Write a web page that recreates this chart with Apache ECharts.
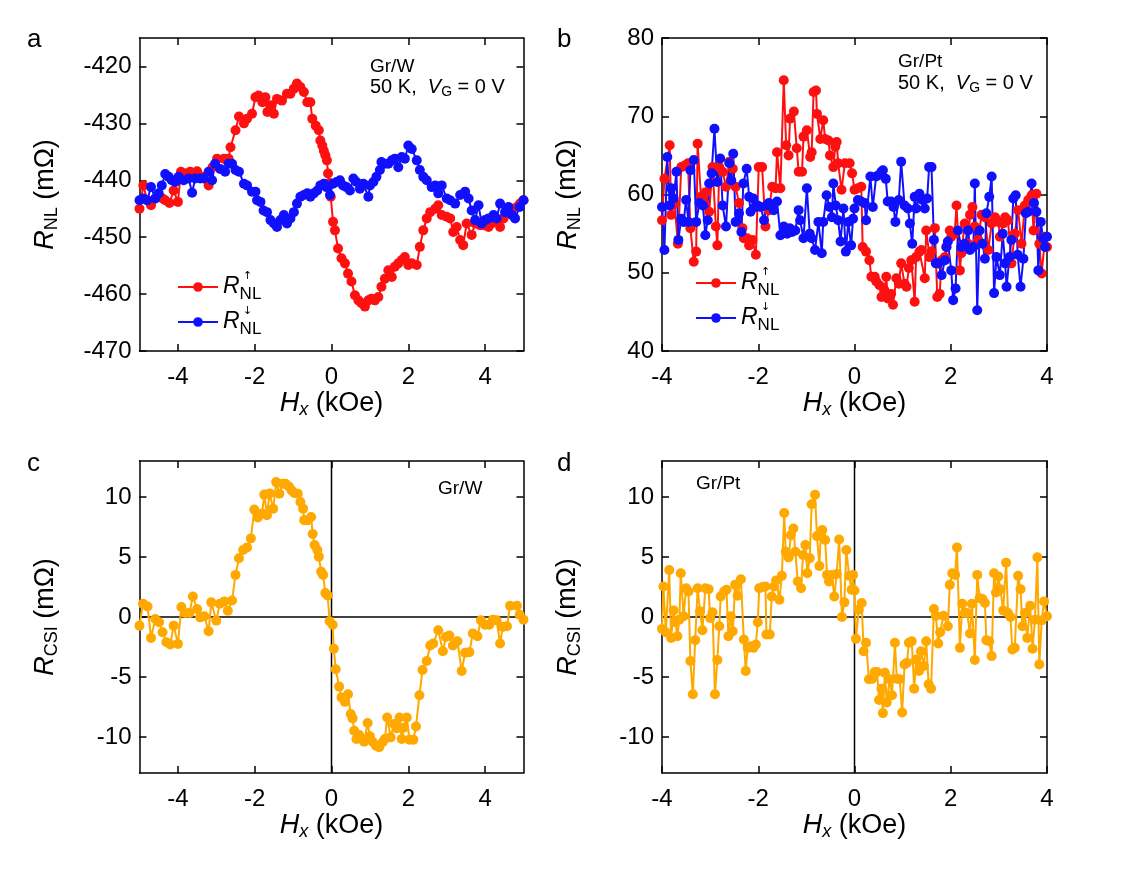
<!DOCTYPE html>
<html>
<head>
<meta charset="utf-8">
<script src="https://cdn.jsdelivr.net/npm/echarts@6/dist/echarts.min.js"></script>
<style>
  html, body { margin: 0; padding: 0; background: #fff; }
  #chart { width: 1121px; height: 874px; }
</style>
</head>
<body>
<div id="chart"></div>
<script>
// panel a: Gr/W, R_NL up / down sweeps  [Hx (kOe), R (mOhm)]
const aUp = [[-5,-445],[-4.9,-440.9],[-4.8,-443.5],[-4.7,-444.4],[-4.59,-443.2],[-4.4,-443.2],[-4.33,-443.5],[-4.22,-444],[-4.11,-441.8],[-4.0,-443.8],
  [-3.92,-438.5],[-3.81,-438.8],[-3.68,-438.5],[-3.5,-438.4],[-3.37,-439.4],[-3.2,-440.9],[-3.1,-437.7],[-2.98,-436.2],[-2.8,-436.2],[-2.68,-436.2],
  [-2.63,-434.2],[-2.5,-431.2],[-2.41,-428.8],[-2.28,-430],[-2.2,-429.2],[-2.07,-428.3],[-1.98,-425.4],[-1.9,-425.1],[-1.8,-426.3],[-1.72,-425.4],
  [-1.67,-428],[-1.59,-426.8],[-1.5,-428.3],[-1.42,-425.7],[-1.29,-426],[-1.16,-424.8],[-1.07,-424.8],[-0.98,-423.9],[-0.9,-423],[-0.81,-423.6],
  [-0.72,-424.5],[-0.63,-426.3],[-0.55,-426.3],[-0.5,-429.2],[-0.41,-430.4],[-0.33,-431.2],[-0.29,-433],[-0.24,-433.9],[-0.2,-434.8],[-0.16,-435.6],
  [-0.12,-436.5],[-0.09,-438.8],[-0.05,-440.5],[-0.02,-442.9],[0.04,-447.3],[0.09,-448.8],[0.17,-452],[0.26,-453.7],[0.35,-454.6],[0.43,-456.4],
  [0.52,-457.8],[0.61,-460.2],[0.7,-461.1],[0.78,-461.6],[0.87,-462.2],[0.96,-461.1],[1.04,-460.8],[1.13,-461.1],[1.22,-460.5],[1.3,-458.7],
  [1.39,-457.3],[1.48,-455.8],[1.57,-457],[1.65,-455.2],[1.74,-454.6],[1.83,-454],[1.91,-453.5],[2.0,-454.9],[2.09,-454.6],[2.22,-454.9],
  [2.3,-451.7],[2.39,-448.8],[2.48,-446.7],[2.57,-445.6],[2.7,-445],[2.78,-444.4],[2.87,-446.1],[3.0,-446.4],[3.09,-446.7],[3.17,-449.1],
  [3.26,-448.2],[3.35,-450.5],[3.43,-451.4],[3.52,-447.6],[3.65,-449.6],[3.74,-447.6],[3.87,-447.9],[3.96,-447.9],[4.09,-448.2],[4.17,-447.6],
  [4.26,-447],[4.39,-448.2],[4.48,-446.7],[4.57,-445.6],[4.7,-445],[4.83,-444.7],[4.91,-444.1],[5.0,-443.5]]
const aDown = [[-5,-443.5],[-4.9,-443.2],[-4.8,-443.5],[-4.7,-441.2],[-4.59,-443.2],[-4.5,-442.3],[-4.42,-440.9],[-4.33,-438.9],[-4.24,-439.4],[-4.16,-440],
  [-4.07,-440.3],[-3.98,-439.4],[-3.85,-440],[-3.72,-439.7],[-3.63,-442.2],[-3.55,-439.7],[-3.42,-439.7],[-3.33,-439.7],[-3.2,-438.5],[-3.11,-440],
  [-3.03,-437.1],[-2.9,-438],[-2.77,-438.5],[-2.68,-437.1],[-2.59,-437.1],[-2.5,-438.2],[-2.41,-438.5],[-2.28,-440.6],[-2.2,-440.9],[-2.07,-442],
  [-1.98,-442],[-1.94,-443.5],[-1.85,-443.8],[-1.77,-445.3],[-1.68,-445.6],[-1.59,-447],[-1.5,-447.6],[-1.42,-448.2],[-1.33,-447],[-1.24,-446.1],
  [-1.16,-447.6],[-1.07,-446.7],[-0.98,-445.6],[-0.9,-444.1],[-0.81,-442.9],[-0.72,-442.6],[-0.63,-442.3],[-0.55,-442.9],[-0.46,-442.3],[-0.37,-441.8],
  [-0.29,-440.9],[-0.2,-440.6],[-0.13,-441.2],[-0.04,-442.6],[0.04,-440.6],[0.13,-440.3],[0.22,-440],[0.3,-440.9],[0.39,-441.2],[0.48,-441.8],
  [0.57,-439.7],[0.65,-440.3],[0.74,-441.5],[0.83,-440.6],[0.96,-442.9],[1.0,-440.9],[1.09,-440.3],[1.17,-439.4],[1.26,-438.2],[1.3,-436.8],
  [1.39,-437.1],[1.48,-437.1],[1.57,-436.5],[1.65,-436.2],[1.74,-437.7],[1.83,-435.9],[1.91,-436.2],[2.0,-433.9],[2.09,-434.5],[2.22,-436.5],
  [2.3,-438.2],[2.39,-439.4],[2.48,-440],[2.61,-441.2],[2.7,-440.9],[2.78,-442.3],[2.87,-440.9],[3.0,-443.2],[3.09,-443.5],[3.22,-444.1],
  [3.35,-442.6],[3.48,-442],[3.57,-443.2],[3.65,-445.3],[3.74,-447],[3.83,-444.4],[3.91,-447.6],[4.0,-447],[4.09,-446.7],[4.22,-446.1],
  [4.3,-446.7],[4.39,-444.1],[4.52,-445.6],[4.61,-444.7],[4.7,-446.1],[4.78,-446.7],[4.9,-444.7],[5.0,-443.5]]

// panel b: Gr/Pt
const bUp = [[-4.0,56.7],[-3.95,62.0],[-3.84,66.3],[-3.81,57.4],[-3.74,58.9],[-3.67,53.7],[-3.6,63.5],[-3.53,63.7],[-3.46,64.0],[-3.41,55.7],
  [-3.34,51.4],[-3.29,52.7],[-3.26,66.5],[-3.19,59.7],[-3.12,58.9],[-3.09,60.3],[-3.02,57.8],[-2.95,63.5],[-2.88,55.9],[-2.85,53.5],
  [-2.81,63.5],[-2.74,62.9],[-2.67,61.0],[-2.6,64.2],[-2.53,63.3],[-2.47,61.0],[-2.4,58.9],[-2.33,55.7],[-2.3,54.4],[-2.23,54.4],
  [-2.19,53.5],[-2.12,54.2],[-2.05,52.3],[-1.99,63.5],[-1.92,63.5],[-1.85,55.9],[-1.78,58.0],[-1.71,61.0],[-1.64,60.8],[-1.61,65.4],
  [-1.54,60.8],[-1.47,74.6],[-1.42,66.3],[-1.37,65.0],[-1.34,69.7],[-1.26,70.6],[-1.2,65.9],[-1.16,62.9],[-1.09,62.9],[-1.06,67.4],
  [-0.99,68.2],[-0.92,64.8],[-0.89,65.4],[-0.85,73.1],[-0.8,73.3],[-0.78,70.3],[-0.71,67.1],[-0.65,69.5],[-0.61,67.1],[-0.54,66.9],
  [-0.51,65.0],[-0.44,63.5],[-0.4,66.1],[-0.37,66.7],[-0.34,64.0],[-0.27,60.6],[-0.2,64.0],[-0.1,64.0],[-0.05,62.7],[0.0,60.6],
  [0.07,60.8],[0.14,61.0],[0.17,53.3],[0.24,52.7],[0.31,51.6],[0.35,49.5],[0.42,49.5],[0.45,48.9],[0.52,48.4],[0.56,46.9],
  [0.62,47.8],[0.66,49.5],[0.69,46.7],[0.76,47.3],[0.8,45.9],[0.87,49.3],[0.92,48.6],[0.97,51.2],[1.04,48.6],[1.08,48.2],
  [1.13,50.6],[1.18,51.6],[1.25,46.3],[1.28,52.0],[1.35,52.7],[1.39,52.9],[1.46,49.3],[1.49,55.4],[1.56,52.0],[1.6,52.7],
  [1.67,55.7],[1.72,46.9],[1.77,47.3],[1.81,51.6],[1.88,52.0],[1.91,53.3],[1.98,55.4],[2.01,54.6],[2.08,55.0],[2.12,58.6],
  [2.19,50.3],[2.22,52.5],[2.29,56.3],[2.36,53.7],[2.4,57.4],[2.45,58.4],[2.5,55.9],[2.57,54.2],[2.64,57.4],[2.71,57.1],
  [2.78,52.9],[2.85,56.3],[2.92,57.1],[2.99,56.5],[3.02,54.6],[3.09,56.3],[3.13,57.1],[3.19,56.7],[3.26,51.2],[3.33,55.0],
  [3.4,58.0],[3.47,53.7],[3.54,58.6],[3.61,59.3],[3.68,59.9],[3.72,55.4],[3.78,60.1],[3.84,53.7],[3.89,49.9],[3.96,54.6],[4.0,53.3]]
const bDown = [[-4.0,58.4],[-3.95,52.9],[-3.89,64.8],[-3.84,58.6],[-3.81,60.8],[-3.76,59.5],[-3.7,62.9],[-3.66,54.2],[-3.6,56.9],[-3.55,56.5],
  [-3.5,59.3],[-3.45,56.5],[-3.41,63.1],[-3.34,64.4],[-3.29,56.5],[-3.22,58.9],[-3.15,58.6],[-3.1,54.8],[-3.05,56.7],[-3.02,61.4],
  [-2.97,62.7],[-2.91,68.4],[-2.85,61.6],[-2.79,64.6],[-2.74,58.6],[-2.67,55.9],[-2.6,64.0],[-2.56,61.8],[-2.52,65.2],[-2.47,56.5],
  [-2.4,57.6],[-2.35,55.2],[-2.31,61.4],[-2.24,63.3],[-2.19,59.7],[-2.16,57.8],[-2.1,59.5],[-2.05,58.4],[-2.01,58.6],[-1.95,58.4],
  [-1.88,56.7],[-1.83,58.6],[-1.78,58.9],[-1.73,58.6],[-1.68,58.0],[-1.61,59.1],[-1.54,54.8],[-1.47,55.9],[-1.4,55.0],[-1.35,55.7],
  [-1.3,55.2],[-1.23,55.4],[-1.16,58.0],[-1.13,56.7],[-1.06,54.4],[-0.99,60.8],[-0.93,55.0],[-0.89,54.4],[-0.82,52.9],[-0.75,56.5],
  [-0.68,52.5],[-0.65,56.5],[-0.58,59.9],[-0.52,58.4],[-0.47,57.1],[-0.44,61.4],[-0.39,58.6],[-0.34,56.7],[-0.29,54.0],[-0.23,58.2],
  [-0.18,52.7],[-0.13,56.5],[-0.07,53.5],[-0.03,56.9],[0.0,58.2],[0.07,59.3],[0.14,59.1],[0.21,58.9],[0.24,56.7],[0.33,62.3],
  [0.38,58.4],[0.45,62.3],[0.51,62.5],[0.56,62.9],[0.59,63.1],[0.65,62.0],[0.69,59.1],[0.76,59.1],[0.81,58.4],[0.85,56.5],
  [0.92,59.3],[0.97,64.2],[1.04,58.6],[1.11,58.2],[1.15,56.3],[1.2,53.7],[1.25,59.7],[1.28,58.2],[1.35,60.1],[1.41,59.3],
  [1.46,58.2],[1.51,59.5],[1.55,63.5],[1.6,63.5],[1.65,54.2],[1.69,51.2],[1.74,51.2],[1.81,49.7],[1.88,51.6],[1.91,53.3],
  [1.94,54.0],[2.01,50.3],[2.05,46.5],[2.1,48.0],[2.15,55.4],[2.22,53.3],[2.29,53.7],[2.36,55.4],[2.4,52.9],[2.47,53.3],
  [2.5,61.4],[2.55,45.2],[2.6,55.4],[2.66,53.7],[2.71,51.8],[2.74,57.6],[2.8,59.7],[2.85,62.3],[2.9,47.4],[2.95,52.0],
  [3.02,49.7],[3.08,55.0],[3.13,51.2],[3.16,48.2],[3.22,52.0],[3.26,54.2],[3.3,59.5],[3.35,59.9],[3.39,52.3],[3.45,48.2],
  [3.51,51.8],[3.56,57.6],[3.61,57.8],[3.68,61.4],[3.73,58.9],[3.78,57.8],[3.82,50.3],[3.87,56.5],[3.92,54.4],[3.96,53.3],[4.0,54.6]]

// panel c: Gr/W, R_CSI
const cCsi = [[-5,-0.72],[-4.91,1.1],[-4.79,0.88],[-4.7,-1.74],[-4.59,-0.17],[-4.49,-0.44],[-4.4,-1.27],[-4.3,-2.1],[-4.2,-2.29],[-4.11,-0.72],
  [-4.0,-2.24],[-3.91,0.83],[-3.81,0.33],[-3.7,0.33],[-3.61,1.71],[-3.5,0.66],[-3.42,-0.03],[-3.31,0.06],[-3.2,-1.19],[-3.13,1.22],
  [-3.0,-0.3],[-2.91,1.1],[-2.79,1.3],[-2.7,0.52],[-2.59,1.38],[-2.5,3.51],[-2.41,4.89],[-2.3,5.58],[-2.2,5.8],[-2.1,6.55],
  [-2.01,8.95],[-1.92,8.29],[-1.81,8.62],[-1.75,10.2],[-1.68,8.48],[-1.61,10.3],[-1.52,9.03],[-1.44,11.24],[-1.36,10.28],[-1.27,11.1],
  [-1.2,11.1],[-1.11,10.88],[-1.04,10.55],[-0.97,10.33],[-0.88,10.28],[-0.81,9.59],[-0.74,9.03],[-0.71,8.07],[-0.62,8.07],[-0.53,8.34],
  [-0.49,6.91],[-0.44,6.0],[-0.37,5.58],[-0.33,5.03],[-0.27,3.78],[-0.22,3.51],[-0.16,1.99],[-0.1,1.8],[-0.05,-0.36],[0.03,-0.64],
  [0.06,-2.65],[0.11,-4.36],[0.2,-5.8],[0.26,-6.7],[0.35,-7.07],[0.43,-6.44],[0.5,-8.09],[0.55,-8.45],[0.59,-9.48],[0.65,-10.17],
  [0.72,-9.83],[0.78,-10.17],[0.85,-10.39],[0.94,-8.84],[1.0,-9.94],[1.07,-10.39],[1.16,-10.72],[1.24,-10.86],[1.33,-10.44],[1.39,-10.17],
  [1.45,-8.37],[1.54,-10.03],[1.63,-8.92],[1.7,-9.28],[1.77,-8.37],[1.83,-10.17],[1.89,-9.2],[1.96,-8.37],[2.03,-10.22],[2.13,-10.22],
  [2.2,-9.12],[2.29,-6.52],[2.37,-4.42],[2.48,-3.67],[2.57,-2.38],[2.65,-2.21],[2.78,-1.1],[2.9,-2.85],[2.98,-1.66],[3.07,-1.55],
  [3.16,-2.38],[3.28,-2.02],[3.39,-4.5],[3.48,-2.98],[3.59,-2.93],[3.68,-1.38],[3.8,-1.6],[3.89,-0.28],[4.0,-0.64],[4.11,-0.64],
  [4.2,-0.22],[4.3,-0.28],[4.39,-2.21],[4.46,-0.83],[4.57,-0.77],[4.65,0.94],[4.83,0.94],[4.9,0.19],[5.0,-0.22]]

// panel d: Gr/Pt, R_CSI
const dCsi = [[-4.0,-0.99],[-3.97,2.54],[-3.92,-1.27],[-3.85,3.92],[-3.81,-1.74],[-3.76,0.55],[-3.72,-0.44],[-3.68,-1.6],[-3.64,-0.22],[-3.61,3.65],
  [-3.55,0.06],[-3.5,2.4],[-3.45,2.13],[-3.41,-3.67],[-3.36,-6.44],[-3.31,-1.93],[-3.26,2.4],[-3.21,0.47],[-3.16,-1.1],[-3.1,2.4],
  [-3.03,2.32],[-3.0,-0.08],[-2.95,0.39],[-2.9,-6.44],[-2.85,-3.59],[-2.81,-0.77],[-2.78,1.71],[-2.71,2.13],[-2.66,2.27],[-2.62,-1.6],
  [-2.57,0.06],[-2.53,-1.19],[-2.48,2.68],[-2.43,1.77],[-2.36,3.15],[-2.3,-1.88],[-2.26,-4.5],[-2.22,-2.57],[-2.15,-2.43],[-2.1,-2.57],
  [-2.05,-2.29],[-2.01,-0.44],[-1.98,2.4],[-1.91,2.49],[-1.85,2.54],[-1.83,-1.46],[-1.76,-1.46],[-1.72,1.71],[-1.67,2.54],[-1.63,3.04],
  [-1.56,1.44],[-1.51,3.43],[-1.46,8.67],[-1.43,5.44],[-1.37,4.97],[-1.32,6.82],[-1.27,7.38],[-1.23,5.44],[-1.18,2.96],[-1.11,2.4],
  [-1.07,5.17],[-1.02,5.99],[-0.98,3.65],[-0.93,4.89],[-0.89,9.39],[-0.82,10.19],[-0.78,6.74],[-0.73,4.25],[-0.7,6.82],[-0.67,7.24],
  [-0.61,6.41],[-0.57,3.51],[-0.53,2.96],[-0.47,3.51],[-0.42,1.71],[-0.37,3.59],[-0.32,6.46],[-0.26,0.0],[-0.21,1.22],[-0.17,5.58],
  [-0.11,3.43],[-0.06,2.27],[-0.03,3.51],[0.0,2.21],[0.03,-1.82],[0.09,0.61],[0.15,1.16],[0.19,-2.85],[0.24,-2.15],[0.3,-5.19],
  [0.37,-5.14],[0.42,-4.59],[0.47,-4.59],[0.51,-6.91],[0.56,-5.97],[0.59,-8.01],[0.63,-4.64],[0.67,-7.13],[0.73,-5.19],[0.78,-6.52],
  [0.84,-2.15],[0.88,-5.14],[0.94,-5.19],[0.99,-7.96],[1.04,-3.95],[1.09,-3.81],[1.13,-2.15],[1.19,-2.02],[1.24,-5.97],[1.28,-3.54],
  [1.34,-4.5],[1.38,-2.85],[1.44,-4.09],[1.49,-2.02],[1.54,-5.61],[1.59,-5.97],[1.65,0.66],[1.69,0.11],[1.74,-2.21],[1.78,-1.27],
  [1.85,0.11],[1.94,-0.77],[1.98,2.68],[2.03,3.65],[2.09,3.51],[2.13,5.8],[2.19,-2.57],[2.24,1.1],[2.29,0.33],[2.34,0.33],
  [2.4,-1.38],[2.44,1.1],[2.5,-3.59],[2.55,3.51],[2.6,1.57],[2.66,1.49],[2.71,1.16],[2.74,-1.93],[2.8,-2.02],[2.85,-3.26],
  [2.9,3.65],[2.94,2.04],[2.99,3.37],[3.03,2.32],[3.09,0.55],[3.15,4.53],[3.19,0.33],[3.24,0.0],[3.28,-2.71],[3.33,-2.57],
  [3.4,3.43],[3.45,2.32],[3.49,-0.77],[3.54,0.33],[3.59,-1.74],[3.65,0.94],[3.7,-2.65],[3.75,-0.22],[3.8,4.97],[3.84,-3.95],
  [3.89,-0.28],[3.94,1.3],[4.0,0.06]]

// zero reference lines in c and d
const cZeroH = [[-5, 0], [5, 0]]
const cZeroV = [[0, -13], [0, 13]]
const dZeroH = [[-4, 0], [4, 0]]
const dZeroV = [[0, -13], [0, 13]]

// tick labels
const hTicksW = [-4, -2, 0, 2, 4]
const hTicksPt = [-4, -2, 0, 2, 4]
const rnlTicksW = [-470, -460, -450, -440, -430, -420]
const rnlTicksPt = [40, 50, 60, 70, 80]
const csiTicks = [-10, -5, 0, 5, 10]

const FONT = '"Liberation Sans", Arial, Helvetica, sans-serif'
const RED = '#ff1010'
const BLUE = '#1010ff'
const ORANGE = '#ffa800'

let myChart = echarts.init(document.getElementById('chart'))

const grids = [
  { left: 139.5, top: 38, width: 384, height: 313 },
  { left: 662, top: 38, width: 385, height: 313 },
  { left: 139.5, top: 461, width: 384, height: 312 },
  { left: 662, top: 461, width: 385, height: 312 }
]

const nameRich = {
  i: { fontFamily: FONT, fontSize: 27, fontStyle: 'italic', lineHeight: 32 },
  s: { fontFamily: FONT, fontSize: 18, lineHeight: 16, verticalAlign: 'bottom' },
  si: { fontFamily: FONT, fontSize: 18, fontStyle: 'italic', lineHeight: 16, verticalAlign: 'bottom' },
  n: { fontFamily: FONT, fontSize: 27, lineHeight: 32 }
}

function makeX (grid, min, max, ticks, withName) {
  let base = {
    type: 'value',
    gridIndex: grid,
    min: min,
    max: max,
    axisLine: { show: true, onZero: false, lineStyle: { color: '#000', width: 1.5 } },
    axisTick: { show: true, inside: true, length: 7, customValues: ticks, lineStyle: { color: '#000', width: 1.5 } },
    splitLine: { show: false }
  }
  let bottom = Object.assign({}, base, {
    position: 'bottom',
    axisLabel: { show: true, customValues: ticks, color: '#000', fontSize: 24, fontFamily: FONT, margin: 14 },
    name: withName ? '{i|H}{si|x}{n| (kOe)}' : '',
    nameLocation: 'middle',
    nameGap: 33,
    nameTextStyle: { color: '#000', rich: nameRich }
  })
  let top = Object.assign({}, base, { position: 'top', axisLabel: { show: false } })
  return [bottom, top]
}

function makeY (grid, min, max, ticks, name) {
  let base = {
    type: 'value',
    gridIndex: grid,
    min: min,
    max: max,
    axisLine: { show: true, onZero: false, lineStyle: { color: '#000', width: 1.5 } },
    axisTick: { show: true, inside: true, length: 7, customValues: ticks, lineStyle: { color: '#000', width: 1.5 } },
    splitLine: { show: false }
  }
  let left = Object.assign({}, base, {
    position: 'left',
    axisLabel: { show: true, customValues: ticks, color: '#000', fontSize: 24, fontFamily: FONT, margin: 8 },
    name: name,
    nameLocation: 'middle',
    nameRotate: 90,
    nameGap: 78,
    nameTextStyle: { color: '#000', rich: nameRich }
  })
  let right = Object.assign({}, base, { position: 'right', axisLabel: { show: false } })
  return [left, right]
}

const xAxes = [].concat(
  makeX(0, -5, 5, hTicksW, true),
  makeX(1, -4, 4, hTicksPt, true),
  makeX(2, -5, 5, hTicksW, true),
  makeX(3, -4, 4, hTicksPt, true)
)
const yAxes = [].concat(
  makeY(0, -470, -415, rnlTicksW, '{i|R}{s|NL}{n| (mΩ)}'),
  makeY(1, 40, 80, rnlTicksPt, '{i|R}{s|NL}{n| (mΩ)}'),
  makeY(2, -13, 13, csiTicks, '{i|R}{s|CSI}{n| (mΩ)}'),
  makeY(3, -13, 13, csiTicks, '{i|R}{s|CSI}{n| (mΩ)}')
)

function dots (name, data, color, panel) {
  return {
    type: 'line',
    name: name,
    xAxisIndex: panel * 2,
    yAxisIndex: panel * 2,
    data: data,
    color: color,
    symbol: 'circle',
    symbolSize: 10,
    showSymbol: true,
    lineStyle: { width: 2, color: color },
    itemStyle: { color: color },
    animation: false
  }
}

function refLine (data, panel) {
  return {
    type: 'line',
    xAxisIndex: panel * 2,
    yAxisIndex: panel * 2,
    data: data,
    symbol: 'none',
    silent: true,
    lineStyle: { width: 1.5, color: '#000' },
    animation: false
  }
}

const legendNames = {
  aUp: '{r|R}{a| ↑}{s|NL}',
  aDown: '{r|R}{a| ↓}{s|NL}',
  bUp: '{r|R}{a| ↑}{s|NL}',
  bDown: '{r|R}{a| ↓}{s|NL}'
}
const legendRich = {
  r: { fontFamily: FONT, fontSize: 23, fontStyle: 'italic', lineHeight: 32 },
  a: { fontFamily: 'DejaVu Sans', fontSize: 11, lineHeight: 10, width: 0, verticalAlign: 'top' },
  s: { fontFamily: FONT, fontSize: 17, lineHeight: 15, verticalAlign: 'bottom' }
}

function legendFor (names, left, top) {
  return {
    data: names,
    left: left,
    top: top,
    orient: 'vertical',
    itemWidth: 40,
    itemHeight: 12,
    itemGap: 3,
    selectedMode: false,
    formatter: function (n) { return legendNames[n] },
    textStyle: { color: '#000', rich: legendRich }
  }
}

function label (text, left, top, size) {
  return {
    type: 'text',
    left: left,
    top: top,
    style: {
      text: text,
      fill: '#000',
      fontFamily: FONT,
      fontSize: size,
      rich: {
        i: { fontFamily: FONT, fontSize: 20, fontStyle: 'italic', lineHeight: 24 },
        s: { fontFamily: FONT, fontSize: 14, lineHeight: 12, verticalAlign: 'bottom' }
      }
    }
  }
}

myChart.setOption({
  backgroundColor: '#fff',
  textStyle: { fontFamily: FONT },
  grid: grids,
  xAxis: xAxes,
  yAxis: yAxes,
  legend: [
    legendFor(['aUp', 'aDown'], 172, 266),
    legendFor(['bUp', 'bDown'], 690, 262)
  ],
  graphic: [
    label('a', 27, 27, 26),
    label('b', 557, 27, 26),
    label('c', 27, 451, 26),
    label('d', 557, 451, 26),
    label('Gr/W', 370, 57, 19),
    label('50 K,  {i|V}{s|G} = 0 V', 370, 77, 20),
    label('Gr/Pt', 898, 52, 19),
    label('50 K,  {i|V}{s|G} = 0 V', 898, 73, 20),
    label('Gr/W', 438, 479, 19),
    label('Gr/Pt', 696, 474, 19)
  ],
  series: [
    dots('aUp', aUp, RED, 0),
    dots('aDown', aDown, BLUE, 0),
    dots('bUp', bUp, RED, 1),
    dots('bDown', bDown, BLUE, 1),
    refLine(cZeroH, 2),
    refLine(cZeroV, 2),
    dots('cCsi', cCsi, ORANGE, 2),
    refLine(dZeroH, 3),
    refLine(dZeroV, 3),
    dots('dCsi', dCsi, ORANGE, 3)
  ]
})

window.addEventListener('resize', function () {
  myChart.resize()
})
</script>
</body>
</html>
